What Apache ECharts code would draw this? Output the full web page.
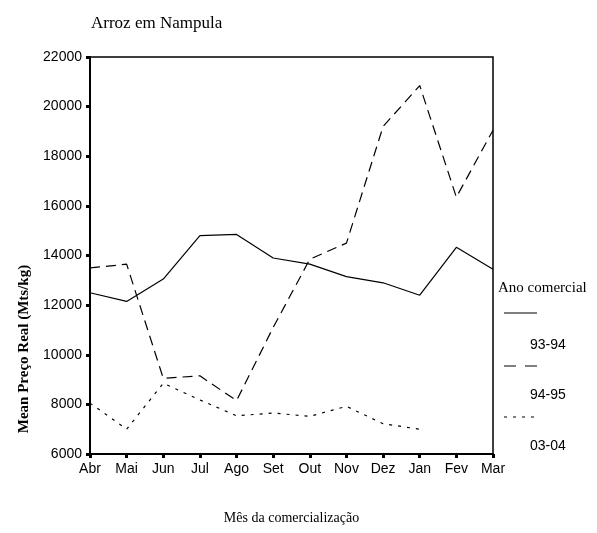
<!DOCTYPE html>
<html>
<head>
<meta charset="utf-8">
<title>Arroz em Nampula</title>
<script src="https://cdn.jsdelivr.net/npm/echarts@6/dist/echarts.min.js"></script>
<style>
  html, body { margin: 0; padding: 0; background: #fff; }
  #chart { width: 597px; height: 533px; }
</style>
</head>
<body>
<div id="chart"></div>
<script>
// meses do ano comercial
const months = ['Abr', 'Mai', 'Jun', 'Jul', 'Ago', 'Set', 'Out', 'Nov', 'Dez', 'Jan', 'Fev', 'Mar']
const seriesNames = ['93-94', '94-95', '03-04']
// preço real médio (Mts/kg)
const price9394 = [12500, 12150, 13050, 14800, 14850, 13900, 13650, 13150, 12900, 12400, 14330, 13450]
const price9495 = [13500, 13650, 9050, 9150, 8150, 11100, 13850, 14500, 19200, 20850, 16350, 19050]
const price0304 = [8050, 7000, 8850, 8180, 7540, 7650, 7520, 7920, 7220, 7000, null, null]
const yTicks = { min: 6000, max: 22000, interval: 2000 }

const chart = echarts.init(document.getElementById('chart'))

const lineStyles = [
  { type: 'solid' },
  { type: [10, 6] },
  { type: [3, 6] }
]

function makeSeries(name, data, style) {
  return {
    name,
    data,
    type: 'line',
    symbol: 'none',
    connectNulls: false,
    lineStyle: { color: '#000', width: 1.2, type: style.type },
    itemStyle: { color: '#000' }
  }
}

// legenda desenhada à mão (traço por cima do texto)
function legendGraphics() {
  const items = [{
    type: 'text',
    left: 498,
    top: 281,
    style: { text: 'Ano comercial', font: '15px "Liberation Serif"', fill: '#000' }
  }]
  const lineY = [313, 366, 417]
  const textY = [345, 395, 446]
  const dashes = [null, [12, 9], [3, 6]]
  seriesNames.forEach((name, i) => {
    items.push({
      type: 'line',
      shape: { x1: 504, y1: lineY[i], x2: 537, y2: lineY[i] },
      style: { stroke: '#000', lineWidth: 1.2, lineDash: dashes[i] }
    })
    items.push({
      type: 'text',
      x: 530,
      y: textY[i],
      style: {
        text: name,
        font: '14px "Liberation Sans"',
        fill: '#000',
        verticalAlign: 'middle'
      }
    })
  })
  // título do eixo Y
  items.push({
    type: 'text',
    x: 24,
    y: 349,
    rotation: Math.PI / 2,
    style: {
      text: 'Mean Preço Real (Mts/kg)',
      font: 'bold 15px "Liberation Serif"',
      fill: '#000',
      align: 'center',
      verticalAlign: 'middle'
    }
  })
  return items
}

const option = {
  animation: false,
  backgroundColor: '#fff',
  title: {
    text: 'Arroz em Nampula',
    left: 86,
    top: 10,
    textStyle: {
      fontFamily: 'Liberation Serif',
      fontWeight: 'normal',
      fontSize: 17,
      color: '#000'
    }
  },
  grid: {
    left: 90,
    right: 104,
    top: 57,
    bottom: 79,
    show: true,
    borderColor: '#000',
    borderWidth: 1.5
  },
  xAxis: {
    type: 'category',
    data: months,
    boundaryGap: false,
    name: 'Mês da comercialização',
    nameLocation: 'middle',
    nameGap: 57,
    nameTextStyle: { fontFamily: 'Liberation Serif', fontSize: 14, color: '#000' },
    axisLine: { lineStyle: { color: '#000', width: 2 } },
    axisTick: { show: true, length: 4, lineStyle: { color: '#000', width: 3 } },
    axisLabel: {
      interval: 0,
      margin: 8,
      fontFamily: 'Liberation Sans',
      fontSize: 14,
      color: '#000'
    },
    splitLine: { show: false }
  },
  yAxis: {
    type: 'value',
    min: yTicks.min,
    max: yTicks.max,
    interval: yTicks.interval,
    axisLine: { show: true, lineStyle: { color: '#000', width: 2 } },
    axisTick: { show: true, length: 4, lineStyle: { color: '#000', width: 3 } },
    axisLabel: {
      margin: 8,
      fontFamily: 'Liberation Sans',
      fontSize: 14,
      color: '#000',
      formatter: (v) => String(v)
    },
    splitLine: { show: false }
  },
  legend: { show: false },
  graphic: legendGraphics(),
  series: [
    makeSeries(seriesNames[0], price9394, lineStyles[0]),
    makeSeries(seriesNames[1], price9495, lineStyles[1]),
    makeSeries(seriesNames[2], price0304, lineStyles[2])
  ]
}

chart.setOption(option)
</script>
</body>
</html>
